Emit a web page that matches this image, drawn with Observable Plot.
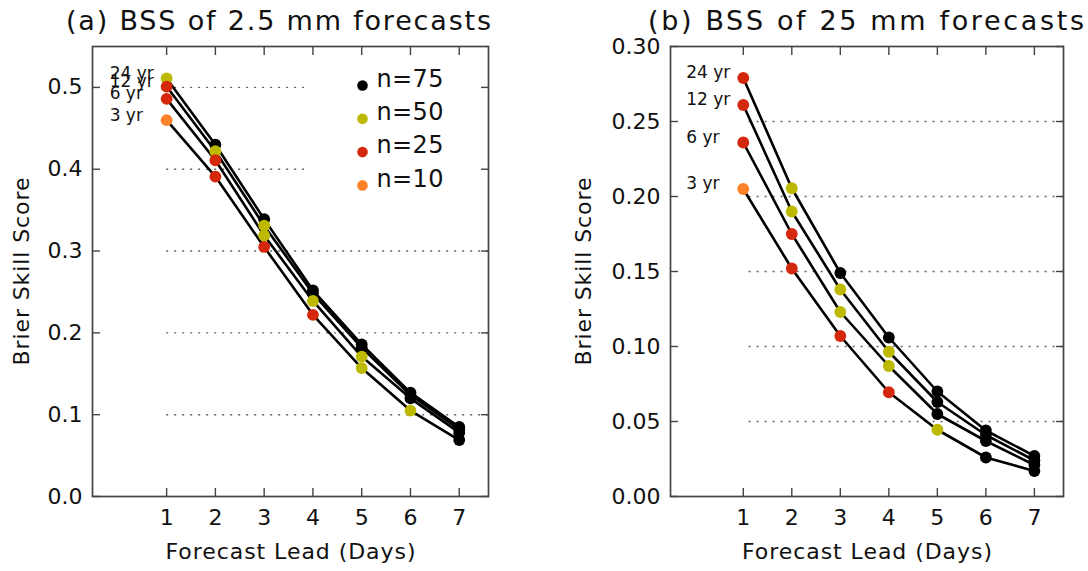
<!DOCTYPE html>
<html><head><meta charset="utf-8">
<script src="https://cdn.jsdelivr.net/npm/d3@7"></script>
<script src="https://cdn.jsdelivr.net/npm/@observablehq/plot@0.6"></script>
<style>
body{margin:0;background:#fff;}
#wrap{width:1088px;height:571px;display:flex;background:#fff;}
</style></head><body><div id="wrap"></div>
<script>
const leads = [1, 2, 3, 4, 5, 6, 7];
const yearLabels = ["24 yr", "12 yr", "6 yr", "3 yr"];

// Panel (a): BSS of 2.5 mm forecasts
const bssA24 = [0.511, 0.430, 0.339, 0.252, 0.186, 0.127, 0.085];
const bssA12 = [0.501, 0.422, 0.331, 0.248, 0.182, 0.124, 0.082];
const bssA6  = [0.486, 0.411, 0.319, 0.239, 0.171, 0.120, 0.078];
const bssA3  = [0.460, 0.391, 0.305, 0.222, 0.157, 0.105, 0.069];
const nA24 = [50, 75, 75, 75, 75, 75, 75];
const nA12 = [25, 50, 50, 75, 75, 75, 75];
const nA6  = [25, 25, 50, 50, 50, 75, 75];
const nA3  = [10, 25, 25, 25, 50, 50, 75];

// Panel (b): BSS of 25 mm forecasts
const bssB24 = [0.279, 0.2055, 0.149, 0.106, 0.070, 0.044, 0.027];
const bssB12 = [0.261, 0.190, 0.138, 0.0965, 0.063, 0.041, 0.024];
const bssB6  = [0.236, 0.175, 0.123, 0.087, 0.055, 0.037, 0.021];
const bssB3  = [0.205, 0.152, 0.107, 0.0695, 0.0445, 0.026, 0.017];
const nB24 = [25, 50, 75, 75, 75, 75, 75];
const nB12 = [25, 50, 50, 50, 75, 75, 75];
const nB6  = [25, 25, 50, 50, 75, 75, 75];
const nB3  = [10, 25, 25, 25, 50, 75, 75];

const legendN = [75, 50, 25, 10];
const nColorList = ["#000000", "#bdb800", "#d4280c", "#fb8228"];

const yTicksA = [0, 0.1, 0.2, 0.3, 0.4, 0.5];
const gridFullA = [0.1, 0.2, 0.3];
const gridShortA = [0.4, 0.5];
const yTicksB = [0, 0.05, 0.10, 0.15, 0.20, 0.25, 0.30];
const gridFullB = [0.05, 0.10, 0.15, 0.20, 0.25];

const colorScale = {domain: legendN, range: nColorList};

function rows(valsList, nList) {
  return valsList.flatMap((vals, si) => vals.map((v, i) => ({lead: leads[i], bss: v, yr: yearLabels[si], n: nList[si][i]})));
}

const FONT = "DejaVu Sans";
const AX = "#444";

function panel(o) {
  const data = rows(o.vals, o.ns);
  const day1 = data.filter(d => d.lead === leads[0]);
  const xmax = o.xDomain[1];
  const marks = [
    Plot.ruleY(o.gridFull, {x1: leads[0] + o.gridStart, x2: xmax, stroke: "#666", strokeWidth: 1.4, strokeDasharray: "2,6"}),
    Plot.ruleY(o.gridShort, {x1: leads[0] + o.gridStart, x2: o.shortEnd, stroke: "#666", strokeWidth: 1.4, strokeDasharray: "2,6"}),
    Plot.line(data, {x: "lead", y: "bss", z: "yr", stroke: "#000", strokeWidth: 2.6}),
    Plot.dot(data, {x: "lead", y: "bss", fill: d => d.n, r: 5.9, stroke: null}),
    Plot.text(day1, {x: "lead", y: "bss", text: "yr", textAnchor: "start", lineAnchor: "middle", dx: -57, dy: -5, fontSize: 17, fill: "#111"}),
    Plot.frame({stroke: AX, strokeWidth: 1.7}),
    Plot.axisY(o.yTicks, {anchor: "left", tickSize: 8, dx: 8, tickFormat: () => "", label: null, stroke: AX, strokeWidth: 1.4}),
    Plot.axisY(o.yTicks, {anchor: "right", tickSize: 8, dx: -8, tickFormat: () => "", label: null, stroke: AX, strokeWidth: 1.4}),
    Plot.axisX(leads, {anchor: "bottom", tickSize: 8, dy: -8, tickFormat: () => "", label: null, stroke: AX, strokeWidth: 1.4}),
    Plot.axisX(leads, {anchor: "top", tickSize: 8, dy: 8, tickFormat: () => "", label: null, stroke: AX, strokeWidth: 1.4}),
    Plot.axisY(o.yTicks, {anchor: "left", tickSize: 0, tickPadding: 10, tickFormat: o.fmt, label: null, fontSize: 22, fill: "#111"}),
    Plot.axisX(leads, {anchor: "bottom", tickSize: 0, tickPadding: 13, tickFormat: d3.format("d"), label: null, fontSize: 22, fill: "#111"}),
    Plot.text([o.title], {frameAnchor: "top", textAnchor: "middle", lineAnchor: "middle", dx: o.titleDx, dy: -25, fontSize: 27, fill: "#111", className: "ttl"}),
    Plot.text(["Forecast Lead (Days)"], {frameAnchor: "bottom", textAnchor: "middle", lineAnchor: "middle", dy: 55, fontSize: 22, fill: "#111", className: "xtl"}),
    Plot.text(["Brier Skill Score"], {frameAnchor: "left", textAnchor: "middle", lineAnchor: "middle", rotate: -90, dx: o.yTitleDx, fontSize: 22, fill: "#111", className: "ytl"})
  ];
  if (o.legend) {
    legendN.forEach((n, i) => {
      marks.push(Plot.dot([n], {frameAnchor: "top-left", dx: o.legDx, dy: o.legDy + i * o.legStep, r: 5.3, fill: d => d, stroke: null}));
      marks.push(Plot.text([n], {frameAnchor: "top-left", dx: o.legDx + 14, dy: o.legDy + i * o.legStep - 6.5, text: d => "n=" + d, textAnchor: "start", lineAnchor: "middle", fontSize: 24, fill: "#111", className: "leg"}));
    });
  }
  const svg = Plot.plot({
    width: o.width, height: 571,
    marginLeft: o.ml, marginRight: o.mr, marginTop: 46, marginBottom: 75,
    x: {domain: o.xDomain},
    y: {domain: o.yDomain},
    color: colorScale,
    style: {fontFamily: FONT, fontSize: "22px", background: "white", overflow: "visible", color: "#111"},
    marks
  });
  d3.select(svg).selectAll("g.ttl text").attr("textLength", o.titleLen).attr("lengthAdjust", "spacing");
  d3.select(svg).selectAll("g.xtl text").attr("textLength", 250).attr("lengthAdjust", "spacing");
  d3.select(svg).selectAll("g.ytl text").attr("textLength", 188).attr("lengthAdjust", "spacing");
  d3.select(svg).selectAll("g.leg text").attr("textLength", 67).attr("lengthAdjust", "spacing");
  return svg;
}

const wrap = document.getElementById("wrap");
wrap.appendChild(panel({
  width: 545, ml: 92, mr: 57, xDomain: [-0.52, 7.6], yDomain: [0, 0.55],
  vals: [bssA24, bssA12, bssA6, bssA3], ns: [nA24, nA12, nA6, nA3],
  yTicks: yTicksA, fmt: d3.format(".1f"), gridFull: gridFullA, gridShort: gridShortA, gridStart: 0, shortEnd: 3.85,
  title: "(a) BSS of 2.5 mm forecasts", titleDx: -12, titleLen: 425, yTitleDx: -71,
  legend: true, legDx: 270, legDy: 39, legStep: 33.3
}));
wrap.appendChild(panel({
  width: 543, ml: 125, mr: 25, xDomain: [-0.5, 7.6], yDomain: [0, 0.30],
  vals: [bssB24, bssB12, bssB6, bssB3], ns: [nB24, nB12, nB6, nB3],
  yTicks: yTicksB, fmt: d3.format(".2f"), gridFull: gridFullB, gridShort: [], gridStart: 0.12, shortEnd: 7.6,
  title: "(b) BSS of 25 mm forecasts", titleDx: -1, titleLen: 436, yTitleDx: -87,
  legend: false
}));
</script></body></html>
